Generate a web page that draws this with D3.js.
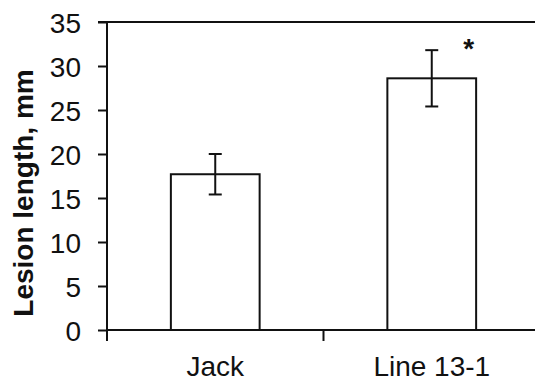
<!DOCTYPE html>
<html>
<head>
<meta charset="utf-8">
<script src="https://cdn.jsdelivr.net/npm/d3@7"></script>
<style>
  body { margin: 0; background: #fff; }
  svg { display: block; font-family: Arial, "Liberation Sans", sans-serif; }
</style>
</head>
<body>
<svg id="chart"></svg>
<script>
// data
const categories = ["Jack", "Line 13-1"];
const means = [17.7, 28.6];
const errors = [2.3, 3.2];
const significant = [false, true];
const yTicks = [0, 5, 10, 15, 20, 25, 30, 35];

const width = 535, height = 381;
const margin = {top: 22, right: -5, bottom: 51, left: 107};

const svg = d3.select("#chart")
    .attr("width", width)
    .attr("height", height);

const y = d3.scaleLinear([0, 35], [height - margin.bottom, margin.top]);
const x = d3.scaleBand(categories, [margin.left, width - margin.right]).padding(0);

const barW = x.bandwidth() * 0.41;
const capW = 13;
const data = categories.map((c, i) => ({name: c, value: means[i], err: errors[i], sig: significant[i]}));

// y axis
const yAxis = svg.append("g")
    .attr("transform", `translate(${margin.left},0)`)
    .call(d3.axisLeft(y).tickValues(yTicks).tickSize(9).tickPadding(17).tickSizeOuter(0));
yAxis.select(".domain").remove();
yAxis.selectAll(".tick line").attr("stroke", "#111").attr("stroke-width", 2);
yAxis.selectAll(".tick text")
    .attr("fill", "#111")
    .style("font-size", "28px")
    .attr("dy", "0.36em");

// top border line at 35
svg.append("line")
    .attr("x1", margin.left - 9).attr("x2", width)
    .attr("y1", y(35)).attr("y2", y(35))
    .attr("stroke", "#111").attr("stroke-width", 2);

// y axis line (extends below the x axis)
svg.append("line")
    .attr("x1", margin.left).attr("x2", margin.left)
    .attr("y1", y(35)).attr("y2", y(0) + 11)
    .attr("stroke", "#111").attr("stroke-width", 2);

// bars
svg.append("g").selectAll("rect")
    .data(data)
    .join("rect")
    .attr("x", d => x(d.name) + (x.bandwidth() - barW) / 2)
    .attr("y", d => y(d.value))
    .attr("width", barW)
    .attr("height", d => y(0) - y(d.value))
    .attr("fill", "#fff")
    .attr("stroke", "#111")
    .attr("stroke-width", 2);

// x axis line + category boundary ticks
svg.append("line")
    .attr("x1", margin.left).attr("x2", width)
    .attr("y1", y(0)).attr("y2", y(0))
    .attr("stroke", "#111").attr("stroke-width", 2);
svg.append("g").selectAll("line")
    .data(categories.slice(1))
    .join("line")
    .attr("x1", d => x(d)).attr("x2", d => x(d))
    .attr("y1", y(0)).attr("y2", y(0) + 11)
    .attr("stroke", "#111").attr("stroke-width", 2);

// category labels
const xAxis = svg.append("g")
    .attr("transform", `translate(0,${y(0)})`)
    .call(d3.axisBottom(x).tickSize(0));
xAxis.select(".domain").remove();
xAxis.selectAll(".tick text")
    .attr("fill", "#111")
    .attr("y", 46)
    .attr("dy", 0)
    .style("font-size", "28px");

// error bars
const eb = svg.append("g")
    .attr("stroke", "#111")
    .attr("stroke-width", 2);
data.forEach(d => {
    const cx = x(d.name) + x.bandwidth() / 2;
    eb.append("line").attr("x1", cx).attr("x2", cx)
        .attr("y1", y(d.value - d.err)).attr("y2", y(d.value + d.err));
    eb.append("line").attr("x1", cx - capW / 2).attr("x2", cx + capW / 2)
        .attr("y1", y(d.value + d.err)).attr("y2", y(d.value + d.err));
    eb.append("line").attr("x1", cx - capW / 2).attr("x2", cx + capW / 2)
        .attr("y1", y(d.value - d.err)).attr("y2", y(d.value - d.err));
});

// significance star
svg.append("g").selectAll("text")
    .data(data.filter(d => d.sig))
    .join("text")
    .attr("x", d => x(d.name) + x.bandwidth() / 2 + 37)
    .attr("y", d => y(d.value + d.err) + 8)
    .attr("text-anchor", "middle")
    .attr("fill", "#111")
    .style("font-size", "28px")
    .style("font-weight", "bold")
    .text("*");

// y axis title
svg.append("text")
    .attr("transform", `translate(33,${(y(0) + y(35)) / 2 + 17}) rotate(-90)`)
    .attr("text-anchor", "middle")
    .attr("fill", "#111")
    .style("font-size", "28px")
    .style("font-weight", "bold")
    .text("Lesion length, mm");
</script>
</body>
</html>
